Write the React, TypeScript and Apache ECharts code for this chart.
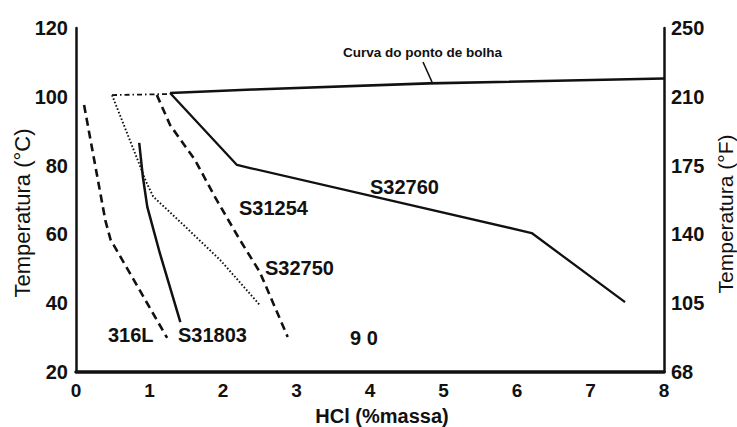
import React, { useEffect, useRef } from 'react';
import * as echarts from 'echarts';

const FONT = '"Liberation Sans", Arial, Helvetica, sans-serif';
const INK = '#111111';

// Fahrenheit labels shown on the right axis, one per Celsius tick (20..120 °C)
const fahrenheitTicks = ['68', '105', '140', '175', '210', '250'];

// Bubble-point curve of the HCl solution (% mass, °C)
const bubblePoint: [number, number][] = [[1.28, 101.1], [2.4, 102.1], [4.8, 103.9], [8.0, 105.3]];
// Dash-dot continuation of the bubble-point curve at low concentration
const bubbleLead: [number, number][] = [[0.49, 100.5], [1.28, 100.8]];

// Iso-corrosion curves (% mass HCl, °C)
const s32760: [number, number][] = [[1.28, 101.1], [2.19, 80.2], [2.37, 79.3], [6.2, 60.4], [7.47, 40.3]];
const s31254: [number, number][] = [[1.10, 100.5], [1.28, 91.8], [1.62, 81.6], [1.89, 70.9], [2.23, 58.4], [2.50, 49.1], [2.88, 30.2]];
const s32750: [number, number][] = [[0.49, 100.5], [0.84, 81.6], [0.95, 75.5], [1.05, 71.0], [1.42, 63.6], [1.96, 52.6], [2.50, 39.5]];
const s31803: [number, number][] = [[0.86, 86.6], [0.91, 76.7], [0.97, 68.0], [1.14, 54.6], [1.42, 34.5]];
const aisi316L: [number, number][] = [[0.11, 97.6], [0.40, 64.0], [0.47, 58.5], [1.24, 29.9]];

const curveLabel = (text: string, x: number, y: number, size = 20) => ({
  type: 'text',
  x,
  y,
  silent: true,
  style: {
    text,
    fill: INK,
    font: `bold ${size}px ${FONT}`,
    align: 'left',
    verticalAlign: 'middle',
  },
});

export default function App() {
  const ref = useRef<HTMLDivElement>(null);

  useEffect(() => {
    const chart = echarts.init(ref.current!, null, { renderer: 'svg' });

    const lineSeries = (name: string, data: [number, number][], width: number, type: any) => ({
      name,
      type: 'line',
      data,
      symbol: 'none',
      silent: true,
      lineStyle: { color: INK, width, type, cap: 'butt', join: 'round' },
    });

    chart.setOption({
      animation: false,
      backgroundColor: '#ffffff',
      textStyle: { fontFamily: FONT },
      grid: { left: 76, right: 73, top: 28, bottom: 55, containLabel: false },
      xAxis: {
        type: 'value',
        min: 0,
        max: 8,
        interval: 1,
        axisLine: { show: true, lineStyle: { color: INK, width: 3.5 } },
        axisTick: { show: false },
        splitLine: { show: false },
        axisLabel: { color: INK, fontSize: 19, fontWeight: 'bold', fontFamily: FONT, margin: 9 },
      },
      yAxis: [
        {
          type: 'value',
          position: 'left',
          min: 20,
          max: 120,
          interval: 20,
          axisLine: { show: true, lineStyle: { color: INK, width: 2.5 } },
          axisTick: { show: false },
          splitLine: { show: false },
          axisLabel: {
            color: INK,
            fontSize: 20,
            fontWeight: 'bold',
            fontFamily: FONT,
            margin: 8,
            padding: [7, 0, 0, 0],
          },
        },
        {
          type: 'value',
          position: 'right',
          min: 20,
          max: 120,
          interval: 20,
          axisLine: { show: true, lineStyle: { color: INK, width: 2.5 } },
          axisTick: { show: false },
          splitLine: { show: false },
          axisLabel: {
            color: INK,
            fontSize: 20,
            fontWeight: 'bold',
            fontFamily: FONT,
            margin: 7,
            formatter: (v: number) => fahrenheitTicks[Math.round((v - 20) / 20)] ?? '',
          },
        },
      ],
      series: [
        lineSeries('Curva do ponto de bolha', bubblePoint, 2.6, 'solid'),
        lineSeries('bolha (extensão)', bubbleLead, 1.8, [5, 3, 1.5, 3]),
        lineSeries('S32760', s32760, 2.3, 'solid'),
        lineSeries('S31254', s31254, 2.6, [8, 5]),
        lineSeries('S32750', s32750, 1.9, [1.6, 2]),
        lineSeries('S31803', s31803, 2.5, 'solid'),
        lineSeries('316L', aisi316L, 2.6, [8, 5]),
      ],
      graphic: [
        {
          type: 'text',
          x: 343,
          y: 52,
          silent: true,
          style: { text: 'Curva do ponto de bolha', fill: INK, font: `bold 13.5px ${FONT}`, align: 'left', verticalAlign: 'middle' },
        },
        {
          type: 'line',
          silent: true,
          shape: { x1: 423, y1: 62, x2: 432, y2: 82 },
          style: { stroke: INK, lineWidth: 1.6 },
        },
        curveLabel('S32760', 370, 187),
        curveLabel('S31254', 239, 208),
        curveLabel('S32750', 265, 268),
        curveLabel('316L', 108, 335),
        curveLabel('S31803', 178, 335),
        curveLabel('9 0', 350, 338),
        {
          type: 'text',
          x: 22,
          y: 213,
          rotation: Math.PI / 2,
          silent: true,
          style: { text: 'Temperatura (°C)', fill: INK, font: `22px ${FONT}`, align: 'center', verticalAlign: 'middle' },
        },
        {
          type: 'text',
          x: 725,
          y: 214,
          rotation: Math.PI / 2,
          silent: true,
          style: { text: 'Temperatura (°F)', fill: INK, font: `21px ${FONT}`, align: 'center', verticalAlign: 'middle' },
        },
        {
          type: 'text',
          x: 382,
          y: 416,
          silent: true,
          style: { text: 'HCl (%massa)', fill: INK, font: `bold 20px ${FONT}`, align: 'center', verticalAlign: 'middle' },
        },
      ],
    });

    return () => chart.dispose();
  }, []);

  return (
    <div
      ref={ref}
      style={{ position: 'absolute', left: 0, top: 0, width: 737, height: 427, background: '#fff' }}
    />
  );
}
